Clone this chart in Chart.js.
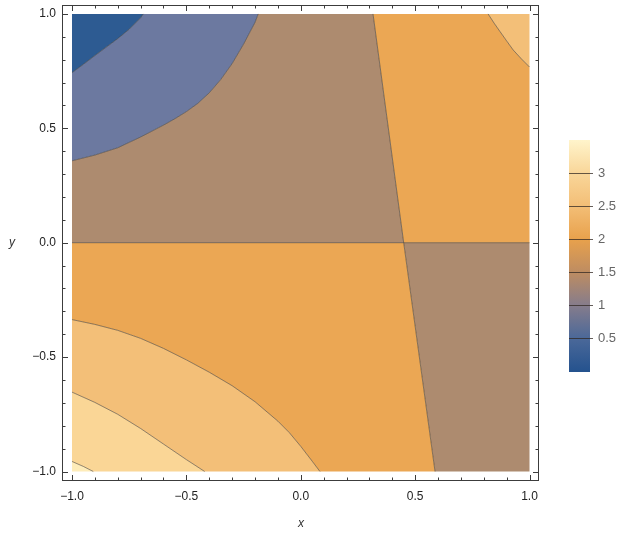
<!DOCTYPE html>
<html>
<head>
<meta charset="utf-8">
<script src="https://cdn.jsdelivr.net/npm/chart.js@4.4.1/dist/chart.umd.min.js"></script>
<style>
  html, body { margin: 0; padding: 0; background: #fff; }
  #wrap { position: relative; width: 630px; height: 534px; }
  #main { position: absolute; left: 0; top: 0; }
  #bar { position: absolute; left: 560px; top: 130px; }
</style>
</head>
<body>
<div id="wrap">
  <canvas id="main" width="630" height="534"></canvas>
  <canvas id="bar" width="70" height="260"></canvas>
</div>
<script>
// plot domain
var xRange = [-1, 1];
var yRange = [-1, 1];
var tickValues = [-1, -0.5, 0, 0.5, 1];

// contour lines, [x, y]
var level05 = [[-1, 0.743], [-0.95, 0.78], [-0.9, 0.818], [-0.85, 0.855], [-0.8, 0.892], [-0.75, 0.933], [-0.7, 0.983], [-0.688, 1]];
var level10 = [[-1, 0.358], [-0.9, 0.383], [-0.8, 0.415], [-0.7, 0.462], [-0.6, 0.514], [-0.55, 0.542], [-0.5, 0.573], [-0.45, 0.609], [-0.4, 0.655], [-0.35, 0.713], [-0.3, 0.783], [-0.25, 0.868], [-0.2, 0.963], [-0.186, 1]];
var level20lo = [[-1, -0.336], [-0.9, -0.357], [-0.8, -0.383], [-0.7, -0.418], [-0.6, -0.462], [-0.5, -0.512], [-0.4, -0.566], [-0.3, -0.625], [-0.2, -0.695], [-0.1, -0.78], [-0.05, -0.83], [0, -0.89], [0.05, -0.955], [0.084, -1]];
var level25 = [[-1, -0.653], [-0.9, -0.698], [-0.8, -0.75], [-0.7, -0.812], [-0.6, -0.88], [-0.5, -0.948], [-0.42, -1]];
var level30 = [[-1, -0.956], [-0.95, -0.978], [-0.907, -1]];
var level20hi = [[0.819, 1], [0.845, 0.96], [0.871, 0.923], [0.9, 0.882], [0.929, 0.842], [0.965, 0.803], [1, 0.768]];
// jumps of the function
var jumpUpper = [[0.45, 0], [0.316, 1]];
var jumpLower = [[0.45, 0], [0.587, -1]];
var jumpMid = [[-1, 0], [1, 0]];

// one colour per band: <0.5, 0.5-1, 1-1.5, 1.5-2, 2-2.5, 2.5-3, >3
var bandColors = ['#2d5b92', '#6c79a0', '#ad8b6f', '#eba754', '#f3bf78', '#fad696', '#feecb9'];

// colour bar
var legendRange = [0, 3.5];
var legendTicks = [0.5, 1, 1.5, 2, 2.5, 3];
var legendStops = [[0, '#24528e'], [0.5, '#4a6899'], [1, '#857c8c'], [1.5, '#bd8c62'], [2, '#e8a14c'], [2.5, '#f3be76'], [3, '#f9d699'], [3.5, '#fff4cb']];

var x0 = xRange[0], x1 = xRange[1], y0 = yRange[0], y1 = yRange[1];
function rev(a) { return a.slice().reverse(); }

// filled regions, built from the curves above
var regions = [
  [0, level05.concat([[x0, y1]])],
  [1, level10.concat(rev(level05))],
  [2, [[x0, 0], jumpUpper[0], jumpUpper[1]].concat(rev(level10))],
  [3, [jumpUpper[0], [x1, 0]].concat(rev(level20hi), [jumpUpper[1]])],
  [4, level20hi.concat([[x1, y1]])],
  [3, [[x0, 0], jumpLower[0], jumpLower[1]].concat(rev(level20lo))],
  [4, level20lo.concat(rev(level25))],
  [5, level25.concat(rev(level30))],
  [6, level30.concat([[x0, y0]])],
  [2, [jumpLower[0], [x1, 0], [x1, y0], jumpLower[1]]]
];
var lines = [level05, level10, level20lo, level25, level30, level20hi, jumpUpper, jumpLower, jumpMid];

function pts(a) { return a.map(function (p) { return { x: p[0], y: p[1] }; }); }

var datasets = [];
lines.forEach(function (l) {
  datasets.push({
    data: pts(l), showLine: true, fill: false, pointRadius: 0,
    borderColor: 'rgba(60,55,50,0.7)', borderWidth: 0.8, order: 1
  });
});
regions.forEach(function (r) {
  datasets.push({
    data: pts(r[1]), showLine: true, fill: 'shape', pointRadius: 0,
    backgroundColor: bandColors[r[0]], borderColor: 'rgba(0,0,0,0)', borderWidth: 0, order: 2
  });
});

function fmt(v) {
  return v.toFixed(1).replace('-', '\u2212');
}

var fontFam = '"Liberation Sans", Arial, sans-serif';

// frame with inward ticks and the axis names
var frameTicks = {
  id: 'frameTicks',
  afterDraw: function (chart) {
    var ctx = chart.ctx, a = chart.chartArea;
    var sx = chart.scales.x, sy = chart.scales.y;
    ctx.save();
    ctx.strokeStyle = '#3c3c3c';
    ctx.lineWidth = 1;
    ctx.strokeRect(a.left + 0.5, a.top + 0.5, a.right - a.left - 1, a.bottom - a.top - 1);
    ctx.beginPath();
    for (var i = -10; i <= 10; i++) {
      var v = i / 10;
      var len = (i % 5 === 0) ? 6 : 3.5;
      var px = Math.round(sx.getPixelForValue(v)) + 0.5;
      var py = Math.round(sy.getPixelForValue(v)) + 0.5;
      ctx.moveTo(px, a.bottom); ctx.lineTo(px, a.bottom - len);
      ctx.moveTo(px, a.top); ctx.lineTo(px, a.top + len);
      ctx.moveTo(a.left, py); ctx.lineTo(a.left + len, py);
      ctx.moveTo(a.right, py); ctx.lineTo(a.right - len, py);
    }
    ctx.stroke();
    ctx.fillStyle = '#333';
    ctx.font = 'italic 12px ' + fontFam;
    ctx.textAlign = 'center';
    ctx.textBaseline = 'middle';
    ctx.fillText('x', (a.left + a.right) / 2 + 0.5, 524);
    ctx.fillText('y', 12, (a.top + a.bottom) / 2);
    ctx.restore();
  }
};

new Chart(document.getElementById('main'), {
  type: 'scatter',
  data: { datasets: datasets },
  plugins: [frameTicks],
  options: {
    responsive: false,
    animation: false,
    devicePixelRatio: 1,
    layout: { padding: { top: 5, right: 91, left: 0, bottom: 0 } },
    plugins: { legend: { display: false }, tooltip: { enabled: false } },
    scales: {
      x: {
        type: 'linear', min: -1.0437, max: 1.0415,
        grid: { display: false, drawTicks: false }, border: { display: false },
        afterBuildTicks: function (s) { s.ticks = tickValues.map(function (v) { return { value: v }; }); },
        afterFit: function (s) { s.height = 53; s.paddingLeft = 0; s.paddingRight = 0; },
        ticks: { padding: 8, color: '#222', maxRotation: 0, autoSkip: false, font: { size: 12, family: fontFam }, callback: fmt }
      },
      y: {
        type: 'linear', min: -1.0415, max: 1.039,
        grid: { display: false, drawTicks: false }, border: { display: false },
        afterBuildTicks: function (s) { s.ticks = tickValues.map(function (v) { return { value: v }; }); },
        afterFit: function (s) { s.width = 62; s.paddingTop = 0; s.paddingBottom = 0; },
        ticks: { padding: 6, color: '#222', autoSkip: false, font: { size: 12, family: fontFam }, callback: fmt }
      }
    }
  }
});

// colour bar
new Chart(document.getElementById('bar'), {
  type: 'bar',
  data: {
    labels: [''],
    datasets: [{
      data: [legendRange],
      borderWidth: 0,
      barPercentage: 1,
      categoryPercentage: 1,
      backgroundColor: function (c) {
        var ch = c.chart, a = ch.chartArea;
        if (!a) return null;
        var g = ch.ctx.createLinearGradient(0, a.bottom, 0, a.top);
        legendStops.forEach(function (s) {
          g.addColorStop((s[0] - legendRange[0]) / (legendRange[1] - legendRange[0]), s[1]);
        });
        return g;
      }
    }]
  },
  options: {
    responsive: false,
    animation: false,
    devicePixelRatio: 1,
    layout: { padding: { top: 10, bottom: 18, left: 9, right: 0 } },
    plugins: { legend: { display: false }, tooltip: { enabled: false } },
    scales: {
      x: { display: false },
      y: {
        position: 'right', min: legendRange[0], max: legendRange[1],
        afterBuildTicks: function (s) { s.ticks = legendTicks.map(function (v) { return { value: v }; }); },
        afterFit: function (s) { s.width = 40; s.paddingTop = 0; s.paddingBottom = 0; },
        grid: { z: 1, color: 'rgba(50,40,35,0.75)', lineWidth: 1, tickLength: 3 },
        border: { display: false },
        ticks: { padding: 5, color: '#666', font: { size: 13, family: fontFam }, callback: function (v) { return String(v); } }
      }
    }
  }
});
</script>
</body>
</html>
